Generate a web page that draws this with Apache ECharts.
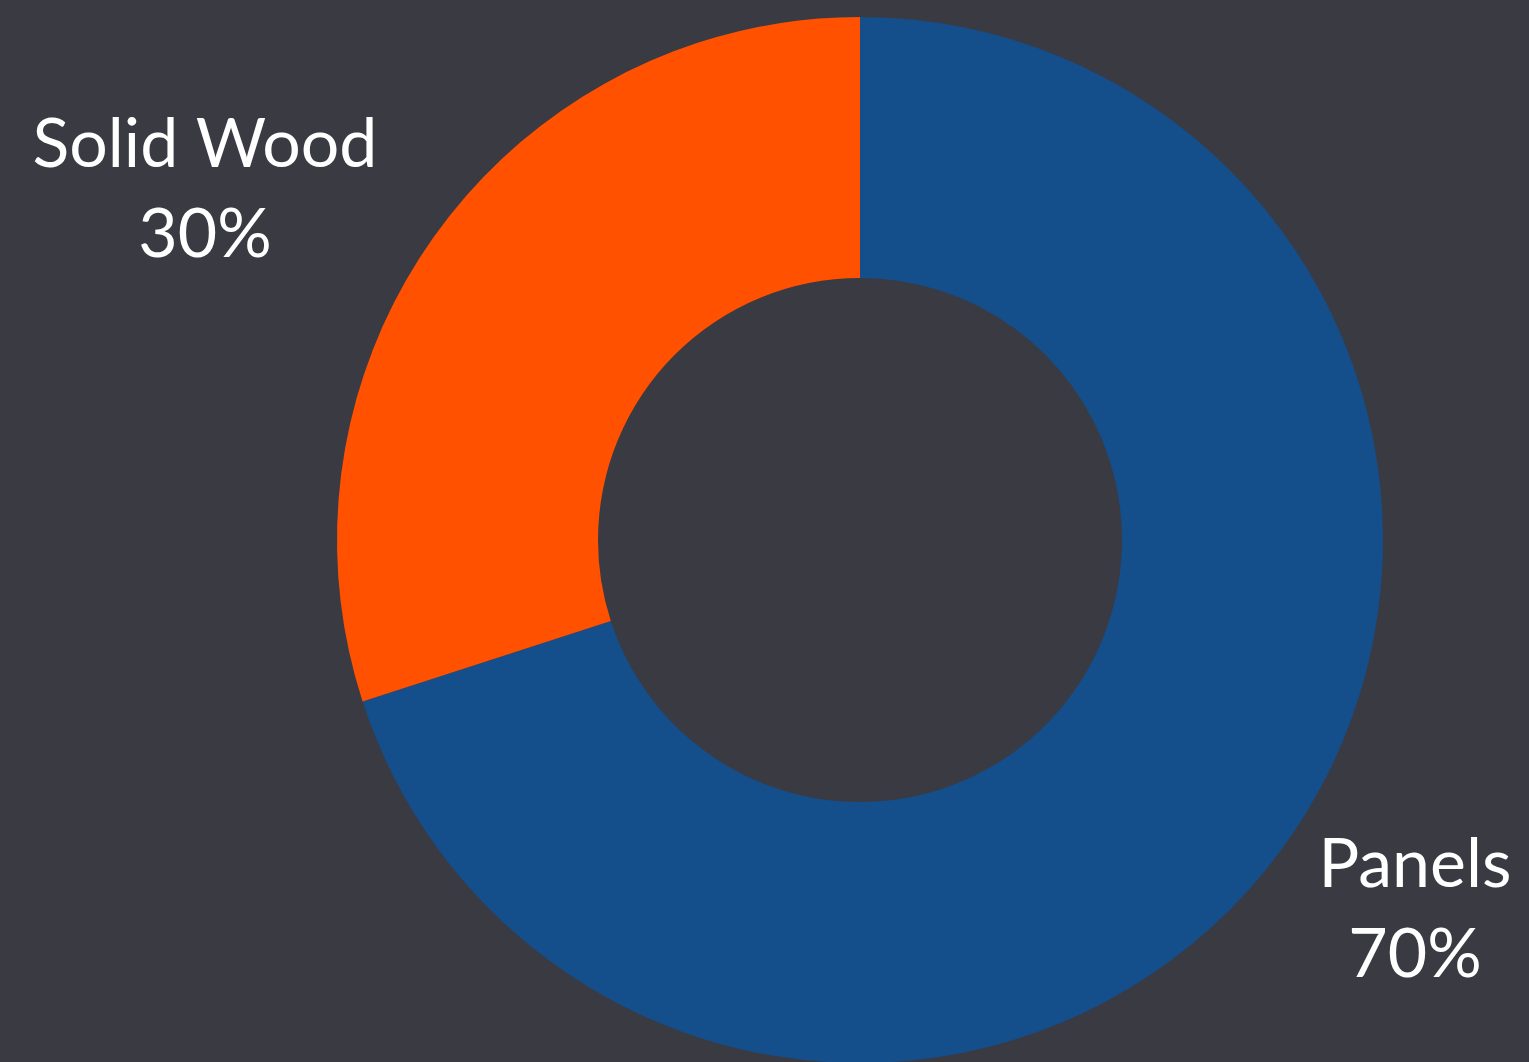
<!DOCTYPE html>
<html><head><meta charset="utf-8">
<script src="https://cdn.jsdelivr.net/npm/echarts@6/dist/echarts.min.js"></script>
<style>html,body{margin:0;padding:0;background:#3a3a43;}#c{width:1529px;height:1062px;}</style>
</head><body><div id="c"></div>
<script>
const categories = ['Panels', 'Solid Wood'];
const values = [70, 30];
const colors = ['#144e8b', '#ff5100'];
const labelPos = [[1415, 910], [205, 190]];

const chart = echarts.init(document.getElementById('c'), null, {renderer: 'canvas'});
chart.setOption({
  backgroundColor: '#3a3a43',
  animation: false,
  series: [{
    type: 'pie',
    center: [860, 540],
    radius: [262, 523],
    startAngle: 90,
    clockwise: true,
    data: categories.map((c, i) => ({name: c, value: values[i], itemStyle: {color: colors[i]}})),
    label: {
      show: true,
      position: 'outside',
      formatter: '{b}\n{d}%',
      color: '#ffffff',
      fontFamily: 'Lato',
      fontSize: 68,
      lineHeight: 90,
      align: 'center',
      overflow: 'none'
    },
    labelLine: {show: false},
    labelLayout: function (p) {
      const pos = labelPos[p.dataIndex];
      return {x: pos[0], y: pos[1], align: 'center', verticalAlign: 'middle'};
    },
    emphasis: {disabled: true}
  }]
});
</script></body></html>
